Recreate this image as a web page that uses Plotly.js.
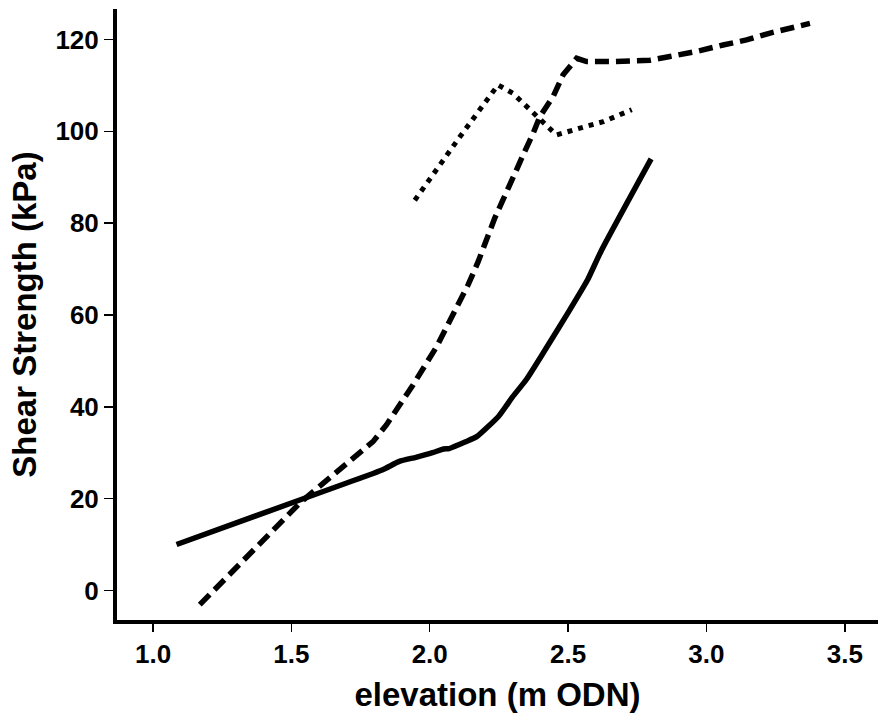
<!DOCTYPE html>
<html>
<head>
<meta charset="utf-8">
<script src="https://cdn.plot.ly/plotly-3.0.1.min.js"></script>
<style>html,body{margin:0;padding:0;background:#fff;}#chart{width:878px;height:724px;}</style>
</head>
<body>
<div id="chart"></div>
<script>
// Solid line series
const solidX = [1.085, 1.53, 1.70, 1.83, 1.89, 1.95, 2.01, 2.05, 2.07, 2.13, 2.17, 2.25, 2.30, 2.35, 2.41, 2.50, 2.57, 2.62, 2.80];
const solidY = [10.0, 19.7, 23.4, 26.3, 28.1, 29.0, 30.0, 30.8, 30.9, 32.4, 33.5, 38.0, 42.2, 46.0, 51.7, 60.5, 67.6, 74.0, 94.0];

// Dashed line series
const dashX = [1.169, 1.53, 1.60, 1.735, 1.795, 1.844, 1.895, 1.94, 2.025, 2.066, 2.139, 2.175, 2.199, 2.235, 2.265, 2.30, 2.338, 2.374, 2.398, 2.446, 2.482, 2.531, 2.567, 2.663, 2.735, 2.796, 2.868, 2.965, 3.06, 3.145, 3.23, 3.30, 3.374];
const dashY = [-3.1, 19.0, 22.6, 29.2, 32.4, 36.1, 40.6, 44.8, 53.1, 57.8, 66.6, 71.6, 75.6, 81.1, 85.1, 90.1, 94.9, 99.6, 103.2, 107.6, 112.3, 115.9, 115.2, 115.2, 115.2, 115.5, 116.3, 117.4, 118.8, 119.9, 121.4, 122.4, 123.5];

// Dotted line series
const dotX = [1.946, 1.976, 2.03, 2.109, 2.193, 2.247, 2.30, 2.35, 2.41, 2.458, 2.543, 2.627, 2.73];
const dotY = [85.0, 87.6, 92.3, 98.8, 105.7, 110.1, 108.3, 105.4, 101.8, 99.2, 100.7, 102.1, 104.7];

// Axis ticks
const xTicks = [1.0, 1.5, 2.0, 2.5, 3.0, 3.5];
const xTickText = ["1.0", "1.5", "2.0", "2.5", "3.0", "3.5"];
const yTicks = [0, 20, 40, 60, 80, 100, 120];

const FONT = "Liberation Sans, Arial, sans-serif";

const traces = [
  {x: solidX, y: solidY, mode: "lines", line: {color: "#000", width: 5.5, shape: "spline", smoothing: 0.5}},
  {x: dashX, y: dashY, mode: "lines", line: {color: "#000", width: 5.5, dash: "14px,7px"}},
  {x: dotX, y: dotY, mode: "lines", line: {color: "#000", width: 5, dash: "5px,6px"}}
];

const layout = {
  width: 878, height: 724,
  margin: {l: 117, r: 0, t: 9, b: 104, pad: 0},
  paper_bgcolor: "#fff", plot_bgcolor: "#fff",
  showlegend: false,
  font: {family: FONT, color: "#000"},
  xaxis: {
    range: [0.8698, 3.62],
    tickvals: xTicks, ticktext: xTickText,
    showgrid: false, zeroline: false,
    showline: true, linecolor: "#000", linewidth: 4,
    ticks: "outside", ticklen: 8, tickwidth: 1.5, tickcolor: "#000",
    tickfont: {family: FONT, size: 26, color: "#000", weight: "bold"},
    title: {text: "elevation (m ODN)", font: {family: FONT, size: 33, color: "#000", weight: "bold"}, standoff: 16}
  },
  yaxis: {
    range: [-6.44, 126.64],
    tickvals: yTicks,
    showgrid: false, zeroline: false,
    showline: true, linecolor: "#000", linewidth: 4,
    ticks: "outside", ticklen: 9, tickwidth: 1.5, tickcolor: "#000",
    tickfont: {family: FONT, size: 26, color: "#000", weight: "bold"},
    title: {text: "Shear Strength (kPa)", font: {family: FONT, size: 33, color: "#000", weight: "bold"}, standoff: 10}
  }
};

Plotly.newPlot("chart", traces, layout, {displayModeBar: false, staticPlot: true});
</script>
</body>
</html>
